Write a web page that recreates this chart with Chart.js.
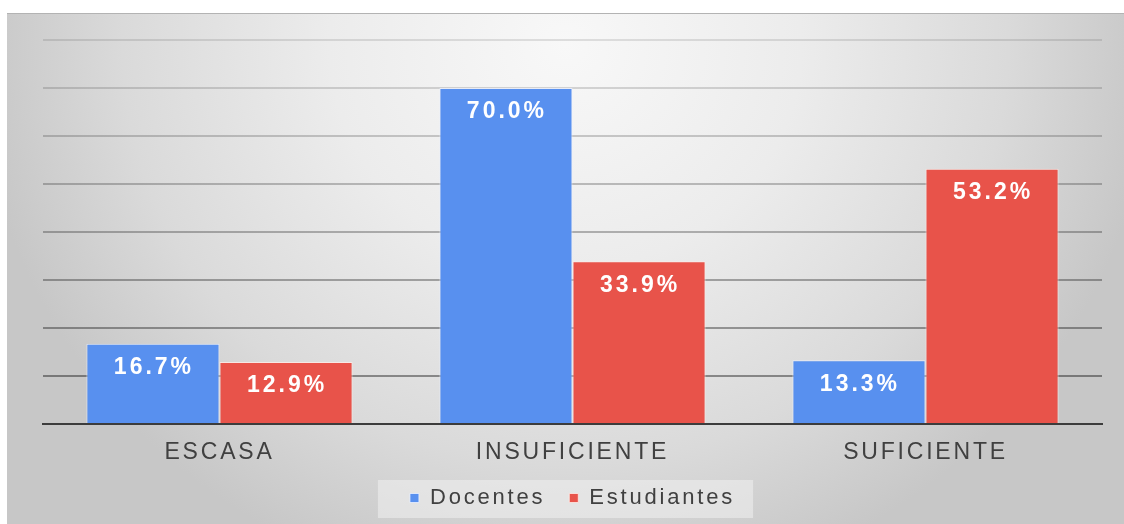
<!DOCTYPE html>
<html>
<head>
<meta charset="utf-8">
<script src="https://cdn.jsdelivr.net/npm/chart.js@4.4.1/dist/chart.umd.min.js"></script>
<style>
  html, body { margin: 0; padding: 0; background: #ffffff; width: 1124px; height: 524px; overflow: hidden; }
  #frame {
    position: absolute; left: 7px; top: 13px; width: 1117px; height: 511px;
    border-top: 1px solid #b3b3b3; box-sizing: border-box;
    background: radial-gradient(ellipse 590px 560px at 50% 6%, #f8f8f8 0%, #ececec 40%, #dadada 75%, #c7c7c7 100%);
  }
  #chart { position: absolute; left: 0; top: -1px; }
</style>
</head>
<body>
<div id="frame"><canvas id="chart" width="1117" height="511"></canvas></div>
<script>
// data
const categories = ["ESCASA", "INSUFICIENTE", "SUFICIENTE"];
const docentes = [16.7, 70.0, 13.3];
const estudiantes = [12.9, 33.9, 53.2];
const seriesNames = ["Docentes", "Estudiantes"];

const BLUE = "#5890ef";
const RED = "#e8534a";
const SPACING = "2.8px";
const FONT = "'Liberation Sans', Arial, sans-serif";

// canvas letter spacing so text width matches the wide look of the original
const spacingPlugin = {
  id: "spacing",
  beforeUpdate(chart) { chart.ctx.letterSpacing = SPACING; },
  beforeDraw(chart) { chart.ctx.letterSpacing = SPACING; }
};

// light box behind the legend
const legendBoxPlugin = {
  id: "legendBox",
  beforeDraw(chart) {
    const boxes = chart.legend && chart.legend.legendHitBoxes;
    if (!boxes || !boxes.length) return;
    const left = Math.min(...boxes.map(b => b.left)) - 32;
    const right = Math.max(...boxes.map(b => b.left + b.width)) + 18;
    const mid = boxes[0].top + boxes[0].height / 2;
    const ctx = chart.ctx;
    ctx.save();
    ctx.fillStyle = "rgba(240,240,240,0.55)";
    ctx.fillRect(left, mid - 18, right - left, 38);
    ctx.restore();
  }
};

// value labels inside the top of every bar
const valueLabels = {
  id: "valueLabels",
  afterDatasetsDraw(chart) {
    const ctx = chart.ctx;
    ctx.save();
    ctx.letterSpacing = "3px";
    ctx.font = "bold 23px " + FONT;
    ctx.fillStyle = "#ffffff";
    ctx.textAlign = "center";
    ctx.textBaseline = "middle";
    chart.data.datasets.forEach((ds, i) => {
      chart.getDatasetMeta(i).data.forEach((bar, j) => {
        ctx.fillText(ds.data[j].toFixed(1) + "%", bar.x + 1, bar.y + 24);
      });
    });
    ctx.restore();
  }
};

new Chart(document.getElementById("chart"), {
  type: "bar",
  data: {
    labels: categories,
    datasets: [
      { label: seriesNames[0], data: docentes, backgroundColor: BLUE, borderColor: "rgba(235,240,255,0.8)", borderWidth: 1 },
      { label: seriesNames[1], data: estudiantes, backgroundColor: RED, borderColor: "rgba(255,235,230,0.8)", borderWidth: 1 }
    ]
  },
  options: {
    responsive: false,
    animation: false,
    devicePixelRatio: 1,
    layout: { padding: { left: 36, right: 22, top: 27, bottom: 5 } },
    datasets: { bar: { categoryPercentage: 0.754, barPercentage: 1 } },
    scales: {
      x: {
        grid: { display: false, drawTicks: false },
        border: { display: true, color: "#3c3c3c", width: 2 },
        ticks: {
          color: "#404040",
          padding: 15,
          font: { family: FONT, size: 23 }
        },
        afterFit(scale) { scale.height = 39; }
      },
      y: {
        min: 0, max: 80,
        ticks: { display: false, stepSize: 10 },
        border: { display: false },
        grid: {
          lineWidth: 2,
          drawTicks: false,
          // lower lines look darker in the original
          color: c => "rgba(0,0,0," + (0.44 - c.index * 0.042).toFixed(3) + ")"
        }
      }
    },
    plugins: {
      tooltip: { enabled: false },
      legend: {
        position: "bottom",
        labels: {
          color: "#404040",
          boxWidth: 9,
          boxHeight: 9,
          padding: 24,
          font: { family: FONT, size: 22 }
        }
      }
    }
  },
  plugins: [spacingPlugin, legendBoxPlugin, valueLabels]
});
</script>
</body>
</html>
